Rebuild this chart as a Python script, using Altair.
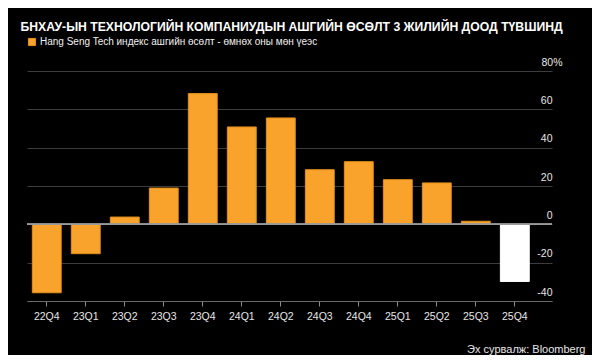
import altair as alt
import pandas as pd

quarters = ["22Q4", "23Q1", "23Q2", "23Q3", "23Q4", "24Q1", "24Q2",
            "24Q3", "24Q4", "25Q1", "25Q2", "25Q3", "25Q4"]
growth = [-35.7, -15.3, 3.8, 18.9, 68.2, 50.8, 55.5, 28.5, 32.7, 23.3, 21.6, 1.6, -29.8]
series_label = "Hang Seng Tech индекс ашгийн өсөлт - өмнөх оны мөн үеэс"
latest_label = "25Q4"
groups = [series_label] * 12 + [latest_label]
y_ticks = [-40, -20, 0, 20, 40, 60, 80]
title_text = "БНХАУ-ЫН ТЕХНОЛОГИЙН КОМПАНИУДЫН АШГИЙН ӨСӨЛТ 3 ЖИЛИЙН ДООД ТҮВШИНД"
source_text = "Эх сурвалж: Bloomberg"

ORANGE = "#F9A22C"
ORANGE_EDGE = "#E3901C"
FONT = "Liberation Sans"

df = pd.DataFrame({"quarter": quarters, "growth": growth, "group": groups})

base = alt.Chart(df)

bars = base.mark_bar(strokeWidth=1).encode(
    x=alt.X(
        "quarter:N",
        sort=quarters,
        scale=alt.Scale(paddingInner=0.26, paddingOuter=0.36, align=0.19),
        axis=alt.Axis(
            title=source_text,
            titleAnchor="end",
            titleAlign="right",
            titleX=558,
            titleY=51,
            titleBaseline="alphabetic",
            titleColor="#e6e6e6",
            titleFont=FONT,
            titleFontSize=11,
            titleFontWeight="normal",
            labelAngle=0,
            labelColor="#e6e6e6",
            labelFont=FONT,
            labelFontSize=10.5,
            labelPadding=5,
            tickSize=5,
            tickColor="#8a8a8a",
            domainColor="#6a6a6a",
            grid=False,
        ),
    ),
    y=alt.Y(
        "growth:Q",
        scale=alt.Scale(domain=[-40, 80], nice=False),
        axis=alt.Axis(
            orient="right",
            title=None,
            values=y_ticks,
            tickCount=7,
            grid=True,
            gridColor="#3c3c3c",
            gridWidth=1,
            domain=False,
            ticks=False,
            labelOverlap=False,
            labelAlign="right",
            labelBaseline="alphabetic",
            labelOffset=-6,
            labelPadding={"condition": {"test": "datum.value == 80", "value": 10}, "value": 0},
            labelExpr="datum.value == 80 ? '80%' : '' + datum.value",
            labelColor="#e6e6e6",
            labelFont=FONT,
            labelFontSize=10.5,
        ),
    ),
    color=alt.Color(
        "group:N",
        scale=alt.Scale(domain=[series_label, latest_label], range=[ORANGE, "#FFFFFF"]),
        legend=alt.Legend(
            values=[series_label],
            title=None,
            orient="none",
            legendX=0,
            legendY=-34,
            symbolType="square",
            symbolSize=50,
            symbolStrokeColor=ORANGE_EDGE,
            symbolStrokeWidth=1,
            labelColor="#f0f0f0",
            labelFont=FONT,
            labelFontSize=10,
            labelOffset=3,
            labelLimit=500,
            padding=0,
        ),
    ),
    stroke=alt.Stroke(
        "group:N",
        scale=alt.Scale(domain=[series_label, latest_label], range=[ORANGE_EDGE, "#FFFFFF"]),
        legend=None,
    ),
)

zero = alt.Chart(df).mark_rule(color="#9a9a9a", strokeWidth=1).encode(y=alt.datum(0))

chart = (
    alt.layer(bars, zero)
    .properties(
        width=525,
        height=230,
        background="#000000",
        padding={"left": 19, "top": 63, "right": 40, "bottom": 54},
        autosize=alt.AutoSizeParams(type="none"),
        title=alt.TitleParams(
            title_text,
            anchor="start",
            color="#ffffff",
            font=FONT,
            fontSize=12.2,
            fontWeight="bold",
            dx=-6,
        ),
    )
    .configure_view(stroke=None)
)

chart.save("out.html", embed_options={"renderer": "svg", "actions": False})
